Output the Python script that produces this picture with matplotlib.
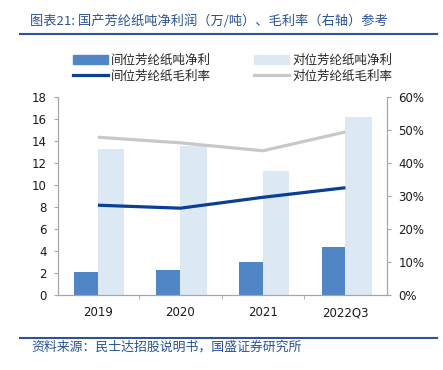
import numpy as np
import matplotlib
matplotlib.use("Agg")
import matplotlib.pyplot as plt
from matplotlib.lines import Line2D

plt.rcParams['font.family'] = ['Noto Sans CJK SC', 'DejaVu Sans']

categories = ["2019", "2020", "2021", "2022Q3"]
meta_profit = [2.15, 2.27, 3.05, 4.36]      # 间位芳纶纸吨净利 (万/吨)
para_profit = [13.27, 13.57, 11.33, 16.2]   # 对位芳纶纸吨净利 (万/吨)
meta_margin = [27.3, 26.4, 29.7, 32.6]      # 间位芳纶纸毛利率 (%)
para_margin = [47.9, 46.2, 43.8, 49.5]      # 对位芳纶纸毛利率 (%)

title = "图表21: 国产芳纶纸吨净利润（万/吨）、毛利率（右轴）参考"
source = "资料来源：民士达招股说明书，国盛证券研究所"

c_dark = "#5086C6"
c_light = "#DDE8F5"
c_blue = "#0B3F92"
c_gray = "#C8C8C8"
c_title = "#2A5298"
c_spine = "#A6A6A6"

fig = plt.figure(figsize=(4.43, 3.70), dpi=100)
ax = fig.add_axes([58.3 / 443, 74.7 / 370, 328.4 / 443, 198 / 370])
ax2 = ax.twinx()

x = np.arange(len(categories))
ax.bar(x - 0.29, meta_profit, width=0.29, align="edge", color=c_dark, zorder=2)
ax.bar(x, para_profit, width=0.32, align="edge", color=c_light, zorder=1)

ax2.plot(x, meta_margin, color=c_blue, lw=2.3, solid_capstyle="butt")
ax2.plot(x, para_margin, color=c_gray, lw=2.3, solid_capstyle="butt")

ax.set_xlim(-0.48, 3.5)
ax.set_ylim(0, 18)
ax.set_yticks(np.arange(0, 19, 2))
ax2.set_ylim(0, 60)
ax2.set_yticks(np.arange(0, 61, 10))
ax2.set_yticklabels([f"{v}%" for v in range(0, 61, 10)])

ax.set_xticks(x)
ax.set_xticklabels(categories)
ax.set_xticks([0.5, 1.5, 2.5], minor=True)

for a in (ax, ax2):
    for s in a.spines.values():
        s.set_color(c_spine)
    a.spines["top"].set_visible(False)
ax.tick_params(axis="x", which="major", length=0, pad=8, labelsize=8.5)
ax.tick_params(axis="x", which="minor", length=3, color=c_spine, direction="out")
ax.tick_params(axis="y", length=3, color=c_spine, pad=5.5, labelsize=8.5)
ax2.tick_params(axis="y", length=3, color=c_spine, pad=5.5, labelsize=8.5)
for lab in ax.get_xticklabels() + ax.get_yticklabels() + ax2.get_yticklabels():
    lab.set_fontfamily(["DejaVu Sans"])
    lab.set_color("#1a1a1a")

# legend
handles = [
    plt.Rectangle((0, 0), 1, 1, color=c_dark),
    Line2D([], [], color=c_blue, lw=2.3),
    plt.Rectangle((0, 0), 1, 1, color=c_light),
    Line2D([], [], color=c_gray, lw=2.3),
]
labels = ["间位芳纶纸吨净利", "间位芳纶纸毛利率", "对位芳纶纸吨净利", "对位芳纶纸毛利率"]
fig.legend(handles, labels, ncol=2, loc="upper left",
           bbox_to_anchor=(73 / 443, 1 - 54 / 370), frameon=False,
           fontsize=9, handlelength=2.8, handleheight=0.7, handletextpad=0.25,
           columnspacing=3.45, labelspacing=0.22, borderpad=0, borderaxespad=0,
           labelcolor="#262626")

# title and source
fig.text(30 / 443, 1 - 21 / 370, title, fontsize=9.5, color=c_title,
         style="italic", va="center", ha="left")
fig.add_artist(Line2D([20 / 443, 437 / 443], [1 - 34.3 / 370] * 2,
                      color=c_title, lw=1.5))
fig.add_artist(Line2D([20 / 443, 437 / 443], [1 - 338.3 / 370] * 2,
                      color=c_title, lw=1.5))
fig.text(31 / 443, 1 - 347 / 370, source, fontsize=9.3, color=c_title,
         style="italic", va="center", ha="left")

fig.savefig("out.png", dpi=100)
